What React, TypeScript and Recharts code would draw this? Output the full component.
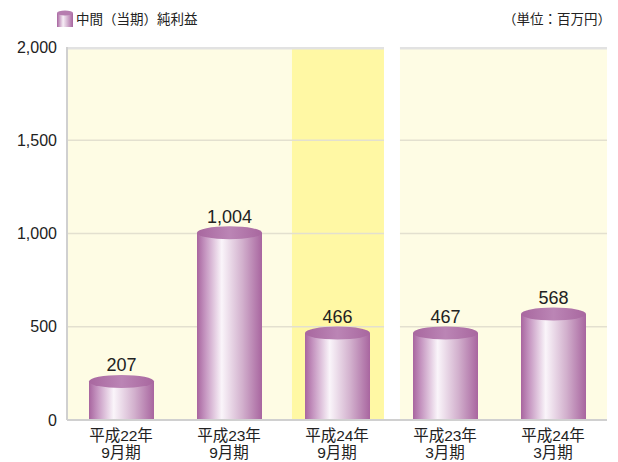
import { BarChart, Bar, XAxis, YAxis, ReferenceArea, LabelList } from 'recharts';

const categories = ['平成22年|9月期', '平成23年|9月期', '平成24年|9月期', '平成23年|3月期', '平成24年|3月期'];
const netIncome = [207, 1004, 466, 467, 568];
const yTicks = [0, 500, 1000, 1500, 2000];
const gridValues = [500, 1000, 1500];
const seriesName = '中間（当期）純利益';
const unitLabel = '（単位：百万円）';

const data = categories.map((c, i) => ({ pos: i + 0.5, label: c, value: netIncome[i] }));

const FONT = '"Liberation Sans", "Noto Sans CJK JP", sans-serif';

function Cylinder(props: any) {
  const { x, y, width, height } = props;
  if (!width || height == null) return null;
  const cx = x + width / 2;
  return (
    <g>
      <rect x={x} y={y} width={width} height={height} fill="url(#cylBody)" />
      <ellipse cx={cx} cy={y} rx={width / 2} ry={6.5} fill="url(#cylTop)" />
    </g>
  );
}

function ValueLabel(props: any) {
  const { x, y, width, value } = props;
  return (
    <text x={x + width / 2} y={y - 10} textAnchor="middle" fontSize={18} fill="#222" fontFamily={FONT}>
      {value.toLocaleString('en-US')}
    </text>
  );
}

function XTick(props: any) {
  const { x, y, payload } = props;
  const idx = Math.floor(payload.value);
  const [l1, l2] = categories[idx].split('|');
  return (
    <text x={x} textAnchor="middle" fontSize={15.5} fill="#222" fontFamily={FONT}>
      <tspan x={x} y={y + 13}>{l1}</tspan>
      <tspan x={x} y={y + 30}>{l2}</tspan>
    </text>
  );
}

export default function App() {
  const leftEnd = 2.935;
  const hiStart = 2.083;
  const rightStart = 3.083;
  const panes = [[0, leftEnd], [rightStart, 5]];
  return (
    <div style={{ position: 'absolute', left: 0, top: 0, width: 618, height: 462, background: '#fff' }}>
      <svg width={618} height={40} style={{ position: 'absolute', left: 0, top: 0 }}>
        <defs>
          <linearGradient id="legBody" x1="0" x2="1" y1="0" y2="0">
            <stop offset="0" stopColor="#a7649f" />
            <stop offset="0.38" stopColor="#f7eef6" />
            <stop offset="1" stopColor="#a7649f" />
          </linearGradient>
        </defs>
        <rect x={57} y={13} width={16} height={14} fill="url(#legBody)" />
        <ellipse cx={65} cy={13} rx={8} ry={2.5} fill="#b67caf" />
        <text x={76} y={24} fontSize={13.5} fill="#222" fontFamily={FONT}>{seriesName}</text>
        <text x={611} y={24} fontSize={13.5} fill="#222" textAnchor="end" fontFamily={FONT}>{unitLabel}</text>
      </svg>
      <BarChart width={618} height={462} data={data} margin={{ top: 47, right: 11, bottom: 0, left: 0 }}>
        <defs>
          <linearGradient id="cylBody" x1="0" x2="1" y1="0" y2="0">
            <stop offset="0" stopColor="#a8659f" />
            <stop offset="0.12" stopColor="#c493bf" />
            <stop offset="0.38" stopColor="#faf5fa" />
            <stop offset="0.7" stopColor="#d2b0cd" />
            <stop offset="1" stopColor="#a8659f" />
          </linearGradient>
          <linearGradient id="cylTop" x1="0" x2="1" y1="0" y2="0">
            <stop offset="0" stopColor="#a8679f" />
            <stop offset="0.5" stopColor="#bb85b5" />
            <stop offset="1" stopColor="#a8679f" />
          </linearGradient>
        </defs>
        <ReferenceArea x1={0} x2={leftEnd} y1={0} y2={2000} fill="#fefce4" fillOpacity={1} stroke="none" />
        <ReferenceArea x1={hiStart} x2={leftEnd} y1={0} y2={2000} fill="#fff8a4" fillOpacity={1} stroke="none" />
        <ReferenceArea x1={rightStart} x2={5} y1={0} y2={2000} fill="#fefce4" fillOpacity={1} stroke="none" />
        {panes.map(([a, b]) =>
          gridValues.map((v) => (
            <ReferenceArea key={`${a}-${v}`} x1={a} x2={b} y1={v - 4} y2={v + 4} fill="#e3e0cf" fillOpacity={1} stroke="none" />
          ))
        )}
        {panes.map(([a, b]) => (
          <ReferenceArea key={`top-${a}`} x1={a} x2={b} y1={1986} y2={2000} fill="#e2e2e2" fillOpacity={1} stroke="none" />
        ))}
        <XAxis
          dataKey="pos"
          type="number"
          domain={[0, 5]}
          ticks={[0.5, 1.5, 2.5, 3.5, 4.5]}
          tick={<XTick />}
          tickLine={false}
          axisLine={{ stroke: '#d0d0d0', strokeWidth: 2 }}
          height={42}
          interval={0}
        />
        <YAxis
          domain={[0, 2000]}
          ticks={yTicks}
          width={67}
          tickLine={false}
          axisLine={{ stroke: '#d0d0d0', strokeWidth: 2 }}
          tick={{ fontSize: 16, fill: '#222', fontFamily: FONT }}
          tickFormatter={(v: number) => v.toLocaleString('en-US')}
          tickMargin={4}
        />
        <Bar dataKey="value" barSize={65} shape={<Cylinder />} isAnimationActive={false}>
          <LabelList dataKey="value" content={<ValueLabel />} />
        </Bar>
      </BarChart>
    </div>
  );
}
